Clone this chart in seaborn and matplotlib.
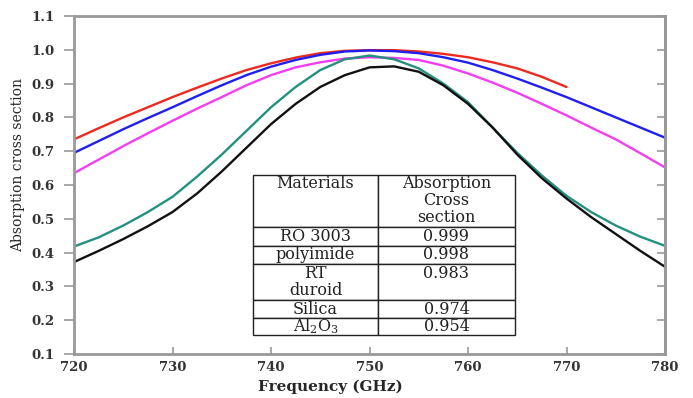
import pandas as pd
import matplotlib.pyplot as plt
import seaborn as sns

sns.set_style("white")
plt.rcParams["font.family"] = ["DejaVu Serif"]
plt.rcParams["mathtext.fontset"] = "dejavuserif"


# Values (frequency in GHz, every 2.5 GHz).
freq = [720, 722.5, 725, 727.5, 730, 732.5, 735, 737.5, 740, 742.5, 745, 747.5, 750,
        752.5, 755, 757.5, 760, 762.5, 765, 767.5, 770, 772.5, 775, 777.5, 780]
freq_red = freq[:21]  # red curve stops at 770 GHz

red = [0.735, 0.768, 0.80, 0.83, 0.86, 0.888, 0.915, 0.94, 0.96, 0.977, 0.99, 0.997, 0.999,
       0.999, 0.995, 0.988, 0.978, 0.963, 0.945, 0.92, 0.89]
blue = [0.695, 0.73, 0.765, 0.798, 0.83, 0.863, 0.895, 0.925, 0.95, 0.97, 0.985, 0.995, 0.998,
        0.996, 0.99, 0.978, 0.962, 0.94, 0.915, 0.888, 0.86, 0.83, 0.80, 0.77, 0.74]
magenta = [0.635, 0.675, 0.715, 0.753, 0.79, 0.826, 0.86, 0.895, 0.925, 0.948, 0.963, 0.974, 0.978,
           0.976, 0.97, 0.953, 0.93, 0.903, 0.873, 0.84, 0.806, 0.77, 0.735, 0.694, 0.652]
teal = [0.418, 0.445, 0.48, 0.52, 0.565, 0.625, 0.69, 0.76, 0.83, 0.89, 0.94, 0.972, 0.983,
        0.972, 0.945, 0.90, 0.845, 0.77, 0.695, 0.628, 0.568, 0.52, 0.48, 0.447, 0.42]
black = [0.372, 0.405, 0.44, 0.478, 0.52, 0.575, 0.64, 0.71, 0.78, 0.84, 0.89, 0.925, 0.948,
         0.951, 0.935, 0.895, 0.84, 0.77, 0.69, 0.62, 0.56, 0.505, 0.455, 0.405, 0.358]

# Table in the middle of the chart.
materials = ["RO 3003", "polyimide", "RT\nduroid", "Silica", "Al$_2$O$_3$"]
cross_sections = ["0.999", "0.998", "0.983\n", "0.974", "0.954"]
header = ["Materials\n\n", "Absorption\nCross\nsection"]

xticks = [720, 730, 740, 750, 760, 770, 780]
yticks = [0.1, 0.2, 0.3, 0.4, 0.5, 0.6, 0.7, 0.8, 0.9, 1.0, 1.1]


# Long-form frame for seaborn.
frames = [
    pd.DataFrame({"freq": freq_red, "value": red, "curve": "red"}),
    pd.DataFrame({"freq": freq, "value": blue, "curve": "blue"}),
    pd.DataFrame({"freq": freq, "value": magenta, "curve": "magenta"}),
    pd.DataFrame({"freq": freq, "value": teal, "curve": "teal"}),
    pd.DataFrame({"freq": freq, "value": black, "curve": "black"}),
]
df = pd.concat(frames, ignore_index = True)

palette = {"red": "#ec2a1f", "blue": "#1f1ff0", "magenta": "#f23ef0",
           "teal": "#24907f", "black": "#111111"}

fig = plt.figure(figsize = (6.93, 3.98), dpi = 100)
ax = fig.add_axes([0.1068, 0.1106, 0.8528, 0.8492])

sns.lineplot(data = df, x = "freq", y = "value", hue = "curve", palette = palette,
             linewidth = 1.7, legend = False, ax = ax)

ax.set_xlim(720, 780)
ax.set_ylim(0.1, 1.1)
ax.set_xticks(xticks)
ax.set_yticks(yticks)
ax.set_yticklabels([f"{t:.1f}" for t in yticks])

ax.set_xlabel("Frequency (GHz)", fontsize = 11, fontweight = "bold")
ax.set_ylabel("Absorption cross section", fontsize = 10)
ax.xaxis.set_label_coords(0.433, -0.075)
ax.yaxis.set_label_coords(-0.083, 0.56)

for lab in ax.get_xticklabels() + ax.get_yticklabels():
    lab.set_fontweight("bold")
    lab.set_color("#333333")

for sp in ax.spines.values():
    sp.set_color("#999999")
    sp.set_linewidth(2)

ax.tick_params(axis = "x", bottom = True, direction = "in", length = 5, width = 1.2,
               color = "#999999", labelsize = 9.5, pad = 5)
ax.tick_params(axis = "y", left = True, direction = "out", length = 7, width = 1.2,
               color = "#999999", labelsize = 9.5, pad = 7)

# Right side ticks point inwards.
sec = ax.secondary_yaxis("right")
sec.set_yticks(yticks)
sec.tick_params(direction = "in", length = 6, width = 1.2, color = "#999999", labelright = False)
sec.spines["right"].set_color("#999999")
sec.spines["right"].set_linewidth(2)


# Table with rows of different heights.
tbl = ax.table(cellText = [[m, v] for m, v in zip(materials, cross_sections)],
               colLabels = header, cellLoc = "center",
               colWidths = [125 / 262, 137 / 262],
               bbox = [0.303, 0.056, 0.443, 0.474])
tbl.auto_set_font_size(False)
tbl.set_fontsize(11.5)

row_heights = [52, 19, 18, 36, 18, 17]
for (r, c), cell in tbl.get_celld().items():
    cell.set_height(row_heights[r] / sum(row_heights))
    cell.set_edgecolor("#222222")
    cell.set_linewidth(1)
    cell.get_text().set_color("#222222")
    cell.get_text().set_linespacing(1.0)

fig.savefig("out.png", dpi = 100)
